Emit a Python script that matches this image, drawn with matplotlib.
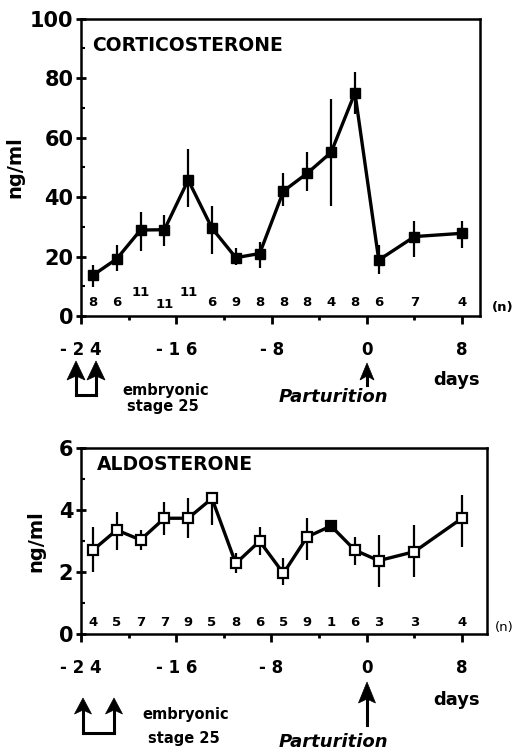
import matplotlib
matplotlib.use('Agg')
import matplotlib.pyplot as plt
from matplotlib.patches import Polygon
from matplotlib.lines import Line2D
from matplotlib.ticker import MultipleLocator

# ---- data ----
days = [-23, -21, -19, -17, -15, -13, -11, -9, -7, -5, -3, -1, 1, 4, 8]

cort = [13.7, 19.2, 28.9, 29.0, 45.7, 29.5, 19.6, 21.0, 42.0, 48.0, 55.0, 75.0, 18.8, 26.7, 27.8]
cort_lo = [9.7, 15.0, 22.0, 23.5, 36.5, 21.0, 17.0, 16.0, 37.0, 42.0, 37.0, 68.0, 14.0, 20.0, 23.0]
cort_hi = [17.1, 24.0, 35.0, 34.0, 56.0, 37.0, 23.0, 25.0, 48.0, 55.0, 73.0, 82.0, 24.0, 32.0, 32.0]
cort_n = ['8', '6', '11', '11', '11', '6', '9', '8', '8', '8', '4', '8', '6', '7', '4']

aldo = [2.71, 3.36, 3.04, 3.74, 3.74, 4.38, 2.28, 3.00, 1.96, 3.14, 3.49, 2.71, 2.37, 2.66, 3.74]
aldo_lo = [2.01, 2.71, 2.71, 3.20, 3.09, 3.52, 1.96, 2.55, 1.58, 2.39, 3.49, 2.23, 1.53, 1.85, 2.82]
aldo_hi = [3.47, 3.95, 3.36, 4.28, 4.38, 4.40, 2.61, 3.47, 2.45, 3.74, 3.49, 3.14, 3.20, 3.52, 4.49]
aldo_n = ['4', '5', '7', '7', '9', '5', '8', '6', '5', '9', '1', '6', '3', '3', '4']
aldo_filled = [False] * 10 + [True] + [False] * 4

xticks = [-24, -16, -8, 0, 8]
xticklabels = ['- 2 4', '- 1 6', '- 8', '0', '8']

W, H = 517, 753
plt.rcParams['font.family'] = 'DejaVu Sans'
plt.rcParams['font.weight'] = 'bold'

fig = plt.figure(figsize=(W / 100, H / 100), dpi=100)


def fx(px):
    return px / W


def fy(py):
    return 1 - py / H


def style_axes(ax):
    for s in ax.spines.values():
        s.set_linewidth(1.8)
    ax.set_xticks(xticks)
    ax.set_xticklabels(xticklabels)
    ax.xaxis.set_minor_locator(MultipleLocator(4))
    ax.tick_params(axis='x', which='major', direction='out', length=6, width=2,
                   labelsize=12, pad=12)
    ax.tick_params(axis='x', which='minor', direction='out', length=3, width=2)
    ax.tick_params(axis='y', which='major', direction='inout', length=7, width=2,
                   labelsize=15, pad=2)
    ax.tick_params(axis='y', which='minor', direction='in', length=3, width=1.5)
    ax.tick_params(top=False, right=False, which='both')
    for lab in ax.get_xticklabels() + ax.get_yticklabels():
        lab.set_fontweight('bold')


def up_arrow(x, tip, base, bottom, hw, notch=4):
    head = Polygon([(fx(x), fy(tip)), (fx(x - hw), fy(base)), (fx(x), fy(base - notch)),
                    (fx(x + hw), fy(base))], closed=True, transform=fig.transFigure,
                   facecolor='black', edgecolor='black', lw=0.5)
    fig.add_artist(head)
    fig.add_artist(Line2D([fx(x), fx(x)], [fy(base - notch), fy(bottom)], transform=fig.transFigure,
                          color='black', lw=2.2))


def bracket(x1, x2, base, bottom, hw, tip):
    up_arrow(x1, tip, base, bottom, hw)
    up_arrow(x2, tip, base, bottom, hw)
    fig.add_artist(Line2D([fx(x1), fx(x2)], [fy(bottom), fy(bottom)], transform=fig.transFigure,
                          color='black', lw=2.2, solid_capstyle='projecting'))


# ---- corticosterone ----
ax1 = fig.add_axes([fx(81), fy(316), (480 - 81) / W, (316 - 18.5) / H])
err1 = [[c - l for c, l in zip(cort, cort_lo)], [h - c for c, h in zip(cort, cort_hi)]]
ax1.errorbar(days, cort, yerr=err1, fmt='none', ecolor='black', elinewidth=1.6, capsize=0)
ax1.plot(days, cort, color='black', lw=2.4, marker='s', ms=6.5, mfc='black', mec='black')
ax1.set_xlim(-24, 9.5)
ax1.set_ylim(0, 100)
ax1.yaxis.set_major_locator(MultipleLocator(20))
ax1.yaxis.set_minor_locator(MultipleLocator(10))
style_axes(ax1)
ax1.set_ylabel('ng/ml', fontsize=14, fontweight='bold', labelpad=4)
ax1.text(0.028, 0.94, 'CORTICOSTERONE', transform=ax1.transAxes, fontsize=13.5,
         fontweight='bold', va='top', ha='left')
n_shift = {2: 3.5, 3: -0.7, 4: 3.5}
for i, (d, n) in enumerate(zip(days, cort_n)):
    ax1.text(d, 4.5 + n_shift.get(i, 0), n, fontsize=9.5, fontweight='bold', ha='center', va='center')
fig.text(fx(503), fy(307), '(n)', fontsize=9.5, fontweight='bold', ha='center', va='center')

# ---- aldosterone ----
ax2 = fig.add_axes([fx(81), fy(634), (487 - 81) / W, (634 - 448.3) / H])
err2 = [[a - l for a, l in zip(aldo, aldo_lo)], [h - a for a, h in zip(aldo, aldo_hi)]]
ax2.errorbar(days, aldo, yerr=err2, fmt='none', ecolor='black', elinewidth=1.6, capsize=0)
ax2.plot(days, aldo, color='black', lw=2.4, zorder=3)
for d, a, f in zip(days, aldo, aldo_filled):
    ax2.plot(d, a, marker='s', ms=6.5, mfc='black' if f else 'white', mec='black', mew=1.6, zorder=4)
ax2.set_xlim(-24, 10.1)
ax2.set_ylim(0, 6)
ax2.yaxis.set_major_locator(MultipleLocator(2))
ax2.yaxis.set_minor_locator(MultipleLocator(1))
style_axes(ax2)
ax2.set_ylabel('ng/ml', fontsize=14, fontweight='bold', labelpad=10)
ax2.text(0.039, 0.965, 'ALDOSTERONE', transform=ax2.transAxes, fontsize=13.5,
         fontweight='bold', va='top', ha='left')
for d, n in zip(days, aldo_n):
    ax2.text(d, 0.38, n, fontsize=9.5, fontweight='bold', ha='center', va='center')
fig.text(fx(504), fy(627), '(n)', fontsize=9.5, fontweight='normal', ha='center', va='center')

# ---- annotations below top panel ----
bracket(76, 96, 380, 395, 9, 361)
fig.text(fx(166), fy(391), 'embryonic', fontsize=10.5, fontweight='bold', ha='center', va='center')
fig.text(fx(163), fy(407), 'stage 25', fontsize=10.5, fontweight='bold', ha='center', va='center')
up_arrow(367, 363, 380, 385, 7)
fig.text(fx(333), fy(397), 'Parturition', fontsize=13, fontweight='bold', style='italic',
         ha='center', va='center')
fig.text(fx(457), fy(380), 'days', fontsize=13, fontweight='bold', ha='center', va='center')

# ---- annotations below bottom panel ----
bracket(83, 114, 714, 733, 8.5, 698)
fig.text(fx(186), fy(714), 'embryonic', fontsize=10.5, fontweight='bold', ha='center', va='center')
fig.text(fx(184), fy(739), 'stage 25', fontsize=10.5, fontweight='bold', ha='center', va='center')
up_arrow(367, 682, 703, 725, 8.5)
fig.text(fx(333), fy(742), 'Parturition', fontsize=13, fontweight='bold', style='italic',
         ha='center', va='center')
fig.text(fx(457), fy(700), 'days', fontsize=13, fontweight='bold', ha='center', va='center')

fig.savefig('out.png', dpi=100)
